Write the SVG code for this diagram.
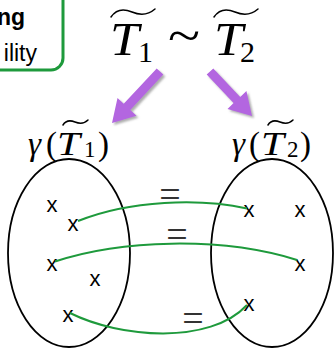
<svg xmlns="http://www.w3.org/2000/svg" width="334" height="351" viewBox="0 0 334 351">
  <style>
    .math { font-family: "Liberation Serif", "DejaVu Serif", serif; fill: #000; }
    .it { font-style: italic; }
    .mark { font-family: "Liberation Sans", Arial, sans-serif; font-size: 22px; fill: #000; text-anchor: middle; }
    .eq { font-family: "Liberation Serif", serif; font-size: 38px; fill: #333; text-anchor: middle; }
    .set { fill: none; stroke: #000; stroke-width: 1.8; }
    .link { fill: none; stroke: #1e9a3c; stroke-width: 2; }
    .arrow { fill: #b366e0; filter: url(#shadow); }
    .tilde { fill: none; stroke: #000; stroke-width: 1.5; stroke-linecap: round; }
  </style>
  <defs>
    <filter id="shadow" x="-20%" y="-20%" width="150%" height="150%">
      <feDropShadow dx="2" dy="2" stdDeviation="1" flood-color="#777" flood-opacity="0.6"/>
    </filter>
  </defs>
  <rect width="334" height="351" fill="#fff"/>

  <g id="legend-box">
    <rect x="-20" y="-12" width="83" height="82" rx="12" ry="12" fill="#fff" stroke="#1e9a3c" stroke-width="3"/>
    <text x="25" y="25" font-family="Liberation Sans, Arial, sans-serif" font-size="23" font-weight="bold" text-anchor="end">ng</text>
    <text x="37" y="61" font-family="Liberation Sans, Arial, sans-serif" font-size="23" text-anchor="end">ility</text>
  </g>

  <g id="equivalence">
    <path class="tilde" d="M111,17 C117,8 125,9 132,12 C139,15 147,16 155,9"/>
    <text class="math it" x="110" y="55" font-size="47" textLength="29" lengthAdjust="spacingAndGlyphs">T</text>
    <text class="math" x="138" y="62" font-size="30">1</text>
    <text class="math" x="168" y="52" font-size="50" textLength="32" lengthAdjust="spacingAndGlyphs">~</text>
    <path class="tilde" d="M214,17 C220,8 228,9 235,12 C242,15 250,16 258,9"/>
    <text class="math it" x="214" y="55" font-size="47" textLength="29" lengthAdjust="spacingAndGlyphs">T</text>
    <text class="math" x="240" y="62" font-size="30">2</text>
  </g>

  <g id="arrows">
    <polygon class="arrow" points="156.7,68.4 163.3,74.6 130.3,110.0 136.5,115.8 112,123 117.5,98.0 123.7,103.8"/>
    <polygon class="arrow" points="213.3,68.4 206.7,74.6 233.6,103.1 227.5,108.9 252,116 246.4,91.1 240.2,96.9"/>
  </g>

  <g id="set-left">
    <path class="tilde" d="M63,125 C66,120 70,120 75,122 C80,124 84,124 88,120"/>
    <text class="math it" x="28" y="155" font-size="33">γ</text>
    <text class="math" x="46" y="155" font-size="33">(</text>
    <text class="math it" x="57" y="155" font-size="33" textLength="23" lengthAdjust="spacingAndGlyphs">T</text>
    <text class="math" x="84" y="157" font-size="23">1</text>
    <text class="math" x="98" y="155" font-size="33">)</text>
    <ellipse class="set" cx="69" cy="253" rx="61" ry="94"/>
    <text class="mark" x="52" y="211.7">x</text>
    <text class="mark" x="73" y="230.7">x</text>
    <text class="mark" x="52" y="270.7">x</text>
    <text class="mark" x="95" y="286.4">x</text>
    <text class="mark" x="68" y="321.7">x</text>
  </g>

  <g id="set-right">
    <path class="tilde" d="M268,125 C271,120 275,120 280,122 C285,124 289,124 293,120"/>
    <text class="math it" x="232" y="155" font-size="33">γ</text>
    <text class="math" x="249" y="155" font-size="33">(</text>
    <text class="math it" x="261" y="155" font-size="33" textLength="23" lengthAdjust="spacingAndGlyphs">T</text>
    <text class="math" x="287" y="157" font-size="23">2</text>
    <text class="math" x="300" y="155" font-size="33">)</text>
    <ellipse class="set" cx="272" cy="253" rx="61" ry="94"/>
    <text class="mark" x="249" y="217.4">x</text>
    <text class="mark" x="300" y="217.4">x</text>
    <text class="mark" x="300" y="270.7">x</text>
    <text class="mark" x="249" y="310.7">x</text>
  </g>

  <g id="connectors">
    <path class="link" d="M78,221 C130,200 200,198 247,208.5"/>
    <path class="link" d="M55,261.5 C120,240 220,236 297,260"/>
    <path class="link" d="M70,313 C120,338 210,345 247,305"/>
    <text class="eq" x="170" y="207">=</text>
    <text class="eq" x="177" y="247">=</text>
    <text class="eq" x="193" y="331">=</text>
  </g>
</svg>
